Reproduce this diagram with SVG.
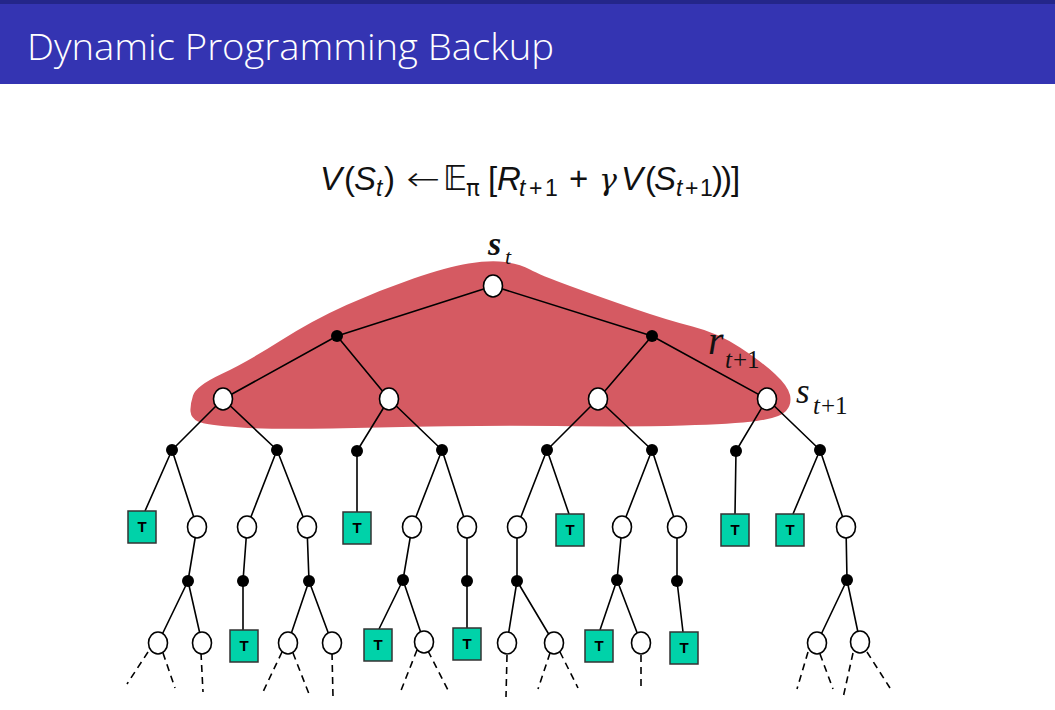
<svg xmlns="http://www.w3.org/2000/svg" width="1055" height="710" viewBox="0 0 1055 710">
<style>
.e{stroke:#000;stroke-width:1.6;fill:none}
.d{stroke:#000;stroke-width:1.6;fill:none;stroke-dasharray:7 5}
.s{fill:#fff;stroke:#000;stroke-width:1.6}
.a{fill:#000}
.tb{fill:#00d2a9;stroke:#333;stroke-width:1.5}
.tt{font-family:"Liberation Sans",Arial,sans-serif;font-weight:bold;font-size:15px;fill:#000;text-anchor:middle}
.lab{font-family:"Liberation Serif","Times New Roman",serif;font-style:italic;fill:#111}
.up{font-style:normal}
.f{font-family:"Liberation Sans",Arial,sans-serif;font-size:33px;fill:#111}
.fi{font-style:italic}
.fs{font-size:23px}
</style>
<rect x="0" y="0" width="1055" height="84" fill="#3434b2"/>
<rect x="0" y="0" width="1055" height="4" fill="#24268a"/>
<text x="27" y="60" font-family="Open Sans, Liberation Sans, sans-serif" font-size="36" font-weight="300" fill="#fff" textLength="527" lengthAdjust="spacingAndGlyphs">Dynamic Programming Backup</text>

<g id="formula" class="f">
<text x="320" y="190" class="fi">V</text>
<text x="344" y="190">(</text>
<text x="354" y="190" class="fi">S</text>
<text x="376" y="196" class="fi fs">t</text>
<text x="384" y="190">)</text>
<text x="406" y="190" font-family="DejaVu Sans, sans-serif" font-weight="300" textLength="34" lengthAdjust="spacingAndGlyphs">←</text>
<text x="443" y="190" font-family="DejaVu Sans, sans-serif">𝔼</text>
<text x="466" y="196" class="fs" font-family="DejaVu Sans, sans-serif">π</text>
<text x="488" y="190">[</text>
<text x="497" y="190" class="fi">R</text>
<text x="519" y="196" class="fs"><tspan class="fi">t</tspan><tspan x="529">+</tspan><tspan x="545">1</tspan></text>
<text x="569" y="190">+</text>
<text x="599" y="190" class="fi" font-family="DejaVu Serif, serif" font-size="30">γ</text>
<text x="621" y="190" class="fi">V</text>
<text x="645" y="190">(</text>
<text x="654" y="190" class="fi">S</text>
<text x="676" y="196" class="fs"><tspan class="fi">t</tspan><tspan x="685">+</tspan><tspan x="700">1</tspan></text>
<text x="712" y="190">)</text>
<text x="721" y="190">)</text>
<text x="731" y="190">]</text>
</g>

<path id="highlight" fill="#d55a62" d="M193,395.5 Q196,386 221.5,374 Q247,362 280,341 Q313,320 346.5,305 Q380,290 413.5,278.5 Q447,267 468.5,263.5 Q490,260 505,262 Q520,264 530,269.5 Q540,275 570,286 Q600,297 633.5,308.5 Q667,320 692.5,326.5 Q718,333 740,347.5 Q762,362 775,374 Q788,386 790,395 Q792,404 786,411 Q780,418 756.5,421 Q733,424 683,425.5 Q633,427 556.5,426 Q480,425 378.5,427.5 Q277,430 241,427.5 Q205,425 198,421.5 Q191,418 190.5,411.5 Q190,405 193,395.5 Z"/>

<g id="labels" class="lab">
<text x="488" y="255" font-size="34" font-weight="bold">s</text>
<text x="505" y="264" font-size="22">t</text>
<text x="708" y="354" font-size="40">r</text>
<text x="725" y="368" font-size="25">t<tspan class="up" dx="1">+1</tspan></text>
<text x="796" y="403" font-size="35">s</text>
<text x="813" y="414" font-size="25">t<tspan class="up" dx="1">+1</tspan></text>
</g>

<g id="connectors">
<path class="e" d="M493,286L337,336M493,286L652,336M337,336L223,399M337,336L389,399M652,336L598,399M652,336L767,399"/>
<path class="e" d="M223,399L172,450M223,399L277,450M389,399L357,451M389,399L442,450M598,399L547,450M598,399L652,450M767,399L736,451M767,399L820,450"/>
<path class="e" d="M172,450L145,511M172,450L197,527M277,450L247,527M277,450L307,527M357,451L357,512M442,450L412,527M442,450L467,527M547,450L517,527M547,450L569,514M652,450L622,527M652,450L677,527M736,451L735,514M820,450L793,514M820,450L846,527"/>
<path class="e" d="M197,527L188,581M247,527L243,581M307,527L309,581M412,527L403,580M467,527L467,581M517,527L517,581M622,527L617,580M677,527L677,581M846,527L847,580"/>
<path class="e" d="M188,581L158,643M188,581L202,643M243,581L243,630M309,581L288,643M309,581L332,643M403,580L379,629M403,580L424,642M467,581L467,628M517,581L507,643M517,581L554,643M617,580L600,630M617,580L641,643M677,581L683,632M847,580L817,643M847,580L860,642"/>
<path class="d" d="M148,652L127,684M163,653L175,688M201,653L203,692M282,652L262,694M293,653L309,694M332,653L333,697M417,650L400,693M428,651L448,690M507,655L506,697M550,653L538,689M560,652L578,688M641,655L641,691M808,652L797,689M820,654L833,689M853,653L843,698M867,652L890,688"/>
</g>

<g id="states">
<ellipse class="s" cx="493" cy="286" rx="9.5" ry="11"/>
<ellipse class="s" cx="223" cy="399" rx="9.5" ry="11"/>
<ellipse class="s" cx="389" cy="399" rx="9.5" ry="11"/>
<ellipse class="s" cx="598" cy="399" rx="9.5" ry="11"/>
<ellipse class="s" cx="767" cy="399" rx="9.5" ry="11"/>
<ellipse class="s" cx="197" cy="527" rx="9.5" ry="11"/>
<ellipse class="s" cx="247" cy="527" rx="9.5" ry="11"/>
<ellipse class="s" cx="307" cy="527" rx="9.5" ry="11"/>
<ellipse class="s" cx="412" cy="527" rx="9.5" ry="11"/>
<ellipse class="s" cx="467" cy="527" rx="9.5" ry="11"/>
<ellipse class="s" cx="517" cy="527" rx="9.5" ry="11"/>
<ellipse class="s" cx="622" cy="527" rx="9.5" ry="11"/>
<ellipse class="s" cx="677" cy="527" rx="9.5" ry="11"/>
<ellipse class="s" cx="846" cy="527" rx="9.5" ry="11"/>
<ellipse class="s" cx="158" cy="643" rx="9.5" ry="11"/>
<ellipse class="s" cx="202" cy="643" rx="9.5" ry="11"/>
<ellipse class="s" cx="288" cy="643" rx="9.5" ry="11"/>
<ellipse class="s" cx="332" cy="643" rx="9.5" ry="11"/>
<ellipse class="s" cx="424" cy="642" rx="9.5" ry="11"/>
<ellipse class="s" cx="507" cy="643" rx="9.5" ry="11"/>
<ellipse class="s" cx="554" cy="643" rx="9.5" ry="11"/>
<ellipse class="s" cx="641" cy="643" rx="9.5" ry="11"/>
<ellipse class="s" cx="817" cy="643" rx="9.5" ry="11"/>
<ellipse class="s" cx="860" cy="642" rx="9.5" ry="11"/>
</g>

<g id="actions" class="a">
<circle cx="337" cy="336" r="6"/>
<circle cx="652" cy="336" r="6"/>
<circle cx="172" cy="450" r="6"/>
<circle cx="277" cy="450" r="6"/>
<circle cx="357" cy="451" r="6"/>
<circle cx="442" cy="450" r="6"/>
<circle cx="547" cy="450" r="6"/>
<circle cx="652" cy="450" r="6"/>
<circle cx="736" cy="451" r="6"/>
<circle cx="820" cy="450" r="6"/>
<circle cx="188" cy="581" r="6"/>
<circle cx="243" cy="581" r="6"/>
<circle cx="309" cy="581" r="6"/>
<circle cx="403" cy="580" r="6"/>
<circle cx="467" cy="581" r="6"/>
<circle cx="517" cy="581" r="6"/>
<circle cx="617" cy="580" r="6"/>
<circle cx="677" cy="581" r="6"/>
<circle cx="847" cy="580" r="6"/>
</g>

<g id="terminals">
<rect class="tb" x="128" y="511" width="28" height="32"/><text class="tt" x="142" y="532">T</text>
<rect class="tb" x="343" y="512" width="28" height="32"/><text class="tt" x="357" y="533">T</text>
<rect class="tb" x="556" y="514" width="28" height="32"/><text class="tt" x="570" y="535">T</text>
<rect class="tb" x="721" y="514" width="28" height="32"/><text class="tt" x="735" y="535">T</text>
<rect class="tb" x="776" y="514" width="28" height="32"/><text class="tt" x="790" y="535">T</text>
<rect class="tb" x="230" y="630" width="28" height="32"/><text class="tt" x="244" y="651">T</text>
<rect class="tb" x="364" y="629" width="28" height="32"/><text class="tt" x="378" y="650">T</text>
<rect class="tb" x="453" y="628" width="28" height="32"/><text class="tt" x="467" y="649">T</text>
<rect class="tb" x="585" y="630" width="28" height="32"/><text class="tt" x="599" y="651">T</text>
<rect class="tb" x="670" y="632" width="28" height="32"/><text class="tt" x="684" y="653">T</text>
</g>
</svg>
